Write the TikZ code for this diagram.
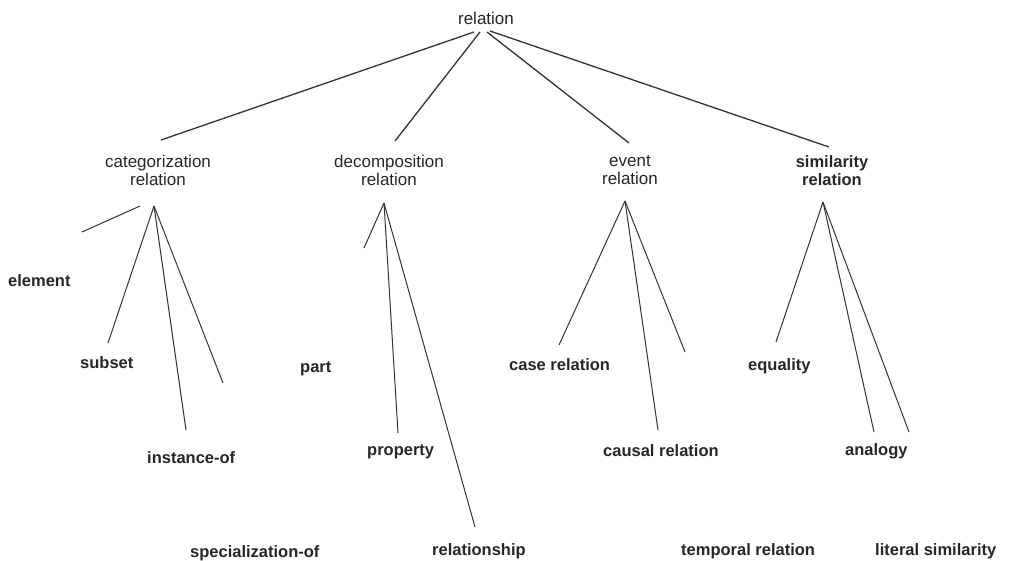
\documentclass[tikz,border=0pt]{standalone}
\usepackage{fontspec}
\setmainfont{Liberation Sans}
\begin{document}
\begin{tikzpicture}[x=1pt,y=-1pt,
  reg/.style={font=\fontsize{17}{18}\selectfont, text=black!85, align=center, inner sep=0pt},
  regb/.style={font=\bfseries\fontsize{16.5}{18}\selectfont, text=black!85, align=center, inner sep=0pt},
  leaf/.style={font=\bfseries\fontsize{16.5}{18}\selectfont, text=black!85, inner sep=0pt, anchor=base west},
  edgeA/.style={draw=black!80, line width=1.3pt},
  edgeB/.style={draw=black!80, line width=1pt}]
\useasboundingbox (0,0) rectangle (1014,560);

% top and second level
\node[reg] (root) at (486,18) {relation};
\node[reg] (cat) at (158,170.5) {categorization\\relation};
\node[reg] (dec) at (389,170.5) {decomposition\\relation};
\node[reg] (evt) at (630,170.5) {event\\relation};
\node[regb] (sim) at (832,170.5) {similarity\\relation};

% leaves
\node[leaf] (element) at (8,286) {element};
\node[leaf] (subset) at (80,368) {subset};
\node[leaf] (instance) at (147,463) {instance-of};
\node[leaf] (special) at (190,557) {specialization-of};
\node[leaf] (part) at (300,372) {part};
\node[leaf] (property) at (367,455) {property};
\node[leaf] (relationship) at (432,555) {relationship};
\node[leaf] (case) at (509,370) {case relation};
\node[leaf] (causal) at (603,456) {causal relation};
\node[leaf] (temporal) at (681,555) {temporal relation};
\node[leaf] (equality) at (748,370) {equality};
\node[leaf] (analogy) at (845,455) {analogy};
\node[leaf] (literal) at (875,555) {literal similarity};

% connector end points (lines stop short of the labels)
\coordinate (rootA) at (474,32);
\coordinate (rootB) at (480,32);
\coordinate (rootC) at (487,32);
\coordinate (rootD) at (490,31);
\coordinate (catTop) at (161,140);
\coordinate (decTop) at (395,141);
\coordinate (evtTop) at (629,143);
\coordinate (simTop) at (829,147);

\coordinate (catApex) at (154,206);
\coordinate (catApexL) at (140,206);
\coordinate (catE1) at (82,232);
\coordinate (catE2) at (108,343);
\coordinate (catE3) at (186,430);
\coordinate (catE4) at (223,383);

\coordinate (decApex) at (384,203);
\coordinate (decE1) at (364,248);
\coordinate (decE2) at (398,433);
\coordinate (decE3) at (475,527);

\coordinate (evtApex) at (625,201);
\coordinate (evtE1) at (559,345);
\coordinate (evtE2) at (658,430);
\coordinate (evtE3) at (685,352);

\coordinate (simApex) at (823,202);
\coordinate (simE1) at (776,342);
\coordinate (simE2) at (874,432);
\coordinate (simE3) at (909,432);

% connectors
\draw[edgeA] (rootA) -- (catTop);
\draw[edgeA] (rootB) -- (decTop);
\draw[edgeA] (rootC) -- (evtTop);
\draw[edgeA] (rootD) -- (simTop);

\draw[edgeB] (catApexL) -- (catE1);
\draw[edgeB] (catApex) -- (catE2);
\draw[edgeB] (catApex) -- (catE3);
\draw[edgeB] (catApex) -- (catE4);

\draw[edgeB] (decApex) -- (decE1);
\draw[edgeB] (decApex) -- (decE2);
\draw[edgeB] (decApex) -- (decE3);

\draw[edgeB] (evtApex) -- (evtE1);
\draw[edgeB] (evtApex) -- (evtE2);
\draw[edgeB] (evtApex) -- (evtE3);

\draw[edgeB] (simApex) -- (simE1);
\draw[edgeB] (simApex) -- (simE2);
\draw[edgeB] (simApex) -- (simE3);
\end{tikzpicture}
\end{document}
